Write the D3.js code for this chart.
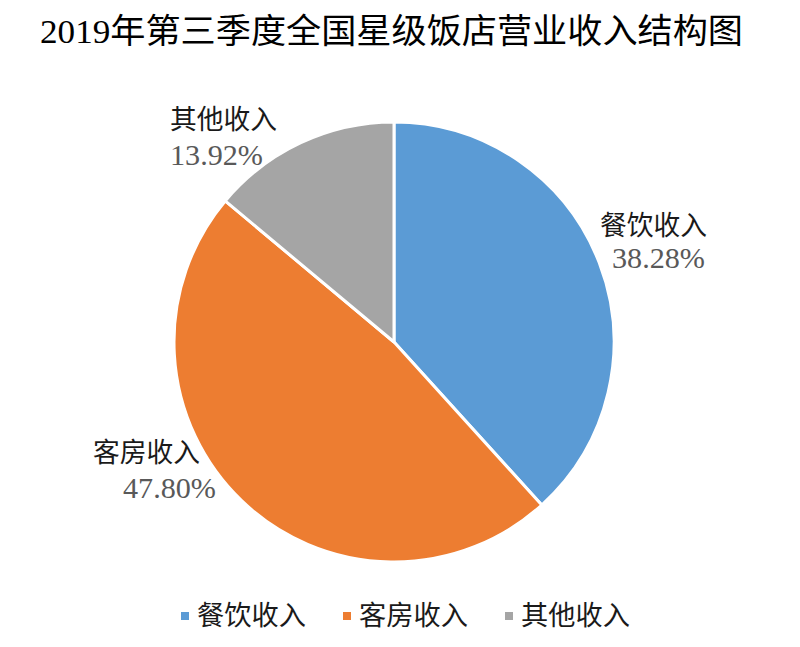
<!DOCTYPE html>
<html><head><meta charset="utf-8">
<script src="https://cdn.jsdelivr.net/npm/d3@7"></script>
<style>html,body{margin:0;padding:0;background:#fff;}svg{display:block;}</style>
</head><body>
<script>
const title = "2019年第三季度全国星级饭店营业收入结构图";
const categories = ["餐饮收入", "客房收入", "其他收入"];
const values = [38.28, 47.80, 13.92];
const colors = ["#5B9BD5", "#ED7D31", "#A5A5A5"];

const W = 800, H = 647;
const cx = 394, cy = 342, R = 220;
const cjk = "'Liberation Serif','Noto Sans CJK SC',serif";
const svg = d3.select("body").append("svg").attr("width", W).attr("height", H);

svg.append("text").attr("x", 40).attr("y", 43)
  .attr("font-family", cjk).attr("font-size", 34).attr("fill", "#000")
  .attr("textLength", 703).attr("lengthAdjust", "spacingAndGlyphs")
  .text(title);

const data = categories.map((c, i) => ({cat: c, value: values[i], color: colors[i]}));
const pie = d3.pie().value(d => d.value).sort(null);
const arc = d3.arc().innerRadius(0).outerRadius(R);
const arcs = pie(data);

const g = svg.append("g").attr("transform", `translate(${cx},${cy})`);
g.selectAll("path").data(arcs).join("path")
  .attr("d", arc).attr("fill", d => d.data.color)
  .attr("stroke", "#fff").attr("stroke-width", 3).attr("stroke-linejoin", "round");

// label layout offsets (relative to chart), per category
const labelLayout = {
  "餐饮收入": {cx: 600, cy: 235, px: 612, py: 268},
  "客房收入": {cx: 93, cy: 462, px: 123, py: 498},
  "其他收入": {cx: 170, cy: 129, px: 170, py: 165}
};
arcs.forEach(a => {
  const L = labelLayout[a.data.cat];
  svg.append("text").attr("x", L.cx).attr("y", L.cy)
    .attr("font-family", cjk).attr("font-size", 27).attr("fill", "#1a1a1a")
    .attr("textLength", 107).attr("lengthAdjust", "spacingAndGlyphs")
    .text(a.data.cat);
  svg.append("text").attr("x", L.px).attr("y", L.py)
    .attr("font-family", "'Liberation Serif',serif").attr("font-size", 29).attr("fill", "#595959")
    .attr("textLength", 93).attr("lengthAdjust", "spacingAndGlyphs")
    .text(d3.format(".2f")(a.data.value) + "%");
});

// legend
const leg = svg.append("g");
data.forEach((d, i) => {
  const x0 = 181 + i * 162;
  leg.append("rect").attr("x", x0).attr("y", 612).attr("width", 8).attr("height", 8).attr("fill", d.color);
  leg.append("text").attr("x", x0 + 16).attr("y", 625)
    .attr("font-family", cjk).attr("font-size", 27).attr("fill", "#1a1a1a")
    .attr("textLength", 109).attr("lengthAdjust", "spacingAndGlyphs")
    .text(d.cat);
});
</script>
</body></html>
